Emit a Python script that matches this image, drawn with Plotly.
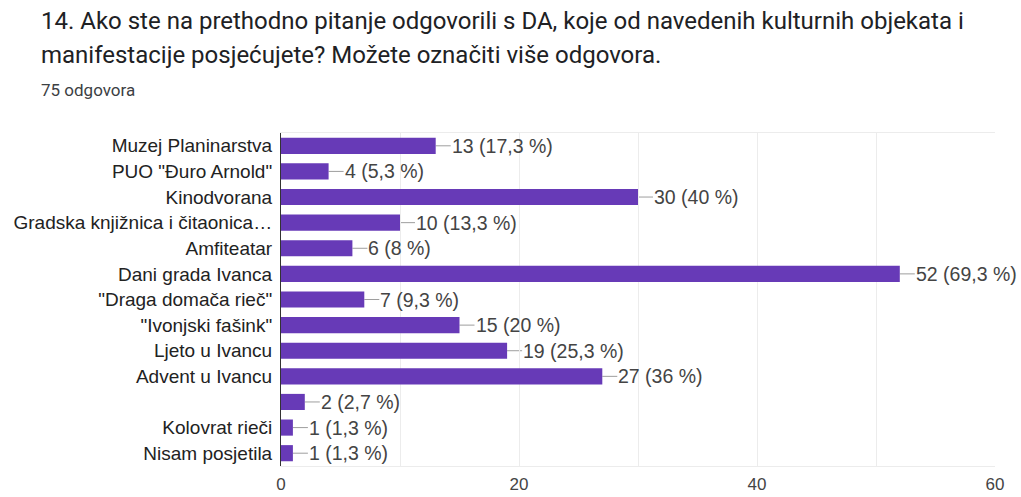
import plotly.graph_objects as go

categories = [
    "Muzej Planinarstva",
    "PUO \"Đuro Arnold\"",
    "Kinodvorana",
    "Gradska knjižnica i čitaonica…",
    "Amfiteatar",
    "Dani grada Ivanca",
    "\"Draga domača rieč\"",
    "\"Ivonjski fašink\"",
    "Ljeto u Ivancu",
    "Advent u Ivancu",
    "",
    "Kolovrat rieči",
    "Nisam posjetila",
]
values = [13, 4, 30, 10, 6, 52, 7, 15, 19, 27, 2, 1, 1]
percent_labels = ["17,3", "5,3", "40", "13,3", "8", "69,3", "9,3", "20", "25,3", "36", "2,7", "1,3", "1,3"]
x_tickvals = [0, 20, 40, 60]
title_lines = [
    "14. Ako ste na prethodno pitanje odgovorili s DA, koje od navedenih kulturnih objekata i",
    "manifestacije posjećujete? Možete označiti više odgovora.",
]
subtitle = "75 odgovora"

W, H = 1021, 497
L, R, T, B = 281, 26, 133, 31
pw, ph = W - L - R, H - T - B

positions = list(range(len(categories)))

fig = go.Figure()
fig.add_trace(go.Bar(
    x=values, y=positions, orientation="h",
    marker=dict(color="#673ab7", line=dict(width=0)),
    hoverinfo="skip",
))

shapes = []
annotations = []
for pos, v, p in zip(positions, values, percent_labels):
    shapes.append(dict(
        type="line", xref="x", yref="y", xsizemode="pixel", xanchor=v,
        x0=0, x1=15, y0=pos, y1=pos,
        line=dict(color="#9e9e9e", width=1), layer="below",
    ))
    annotations.append(dict(
        x=v, y=pos, xref="x", yref="y", xanchor="left", yanchor="middle",
        xshift=14, text=f"{v} ({p} %)", showarrow=False,
        font=dict(family="Liberation Sans, Arial", size=19.5, color="#444444"),
    ))

def px_x(px):
    return (px - L) / pw

def px_y(py):
    return 1 - (py - T) / ph

annotations.append(dict(
    x=px_x(39), y=px_y(21), xref="paper", yref="paper", xanchor="left", yanchor="middle",
    text=title_lines[0], showarrow=False,
    font=dict(family="Roboto", size=24, color="#202124"),
))
annotations.append(dict(
    x=px_x(39), y=px_y(55), xref="paper", yref="paper", xanchor="left", yanchor="middle",
    text=title_lines[1], showarrow=False,
    font=dict(family="Roboto", size=24, color="#202124"),
))
annotations.append(dict(
    x=px_x(39), y=px_y(90), xref="paper", yref="paper", xanchor="left", yanchor="middle",
    text=subtitle, showarrow=False,
    font=dict(family="Roboto", size=17, color="#3c4043"),
))

fig.update_layout(
    width=W, height=H,
    margin=dict(l=L, r=R, t=T, b=B, pad=0, autoexpand=False),
    paper_bgcolor="white", plot_bgcolor="white",
    showlegend=False,
    bargap=0.37,
    shapes=shapes,
    annotations=annotations,
    xaxis=dict(
        range=[0, 60], tickvals=x_tickvals, showgrid=True, gridcolor="#ececec", gridwidth=1,
        minor=dict(dtick=10, showgrid=True, gridcolor="#ececec", gridwidth=1),
        zeroline=False, showline=True, linecolor="#ececec", mirror=True,
        ticks="", ticklabelstandoff=3,
        tickfont=dict(family="Liberation Sans, Arial", size=17, color="#444444"),
        fixedrange=True, automargin=False,
    ),
    yaxis=dict(
        range=[len(categories) - 0.5, -0.5], tickvals=positions, ticktext=categories,
        showgrid=False, zeroline=False, showline=True, linecolor="#333333", linewidth=1,
        ticks="outside", ticklen=4, tickcolor="rgba(0,0,0,0)",
        tickfont=dict(family="Liberation Sans, Arial", size=19, color="#222222"),
        fixedrange=True, automargin=False,
    ),
)

fig.write_html("out.html", config={"displayModeBar": False})
